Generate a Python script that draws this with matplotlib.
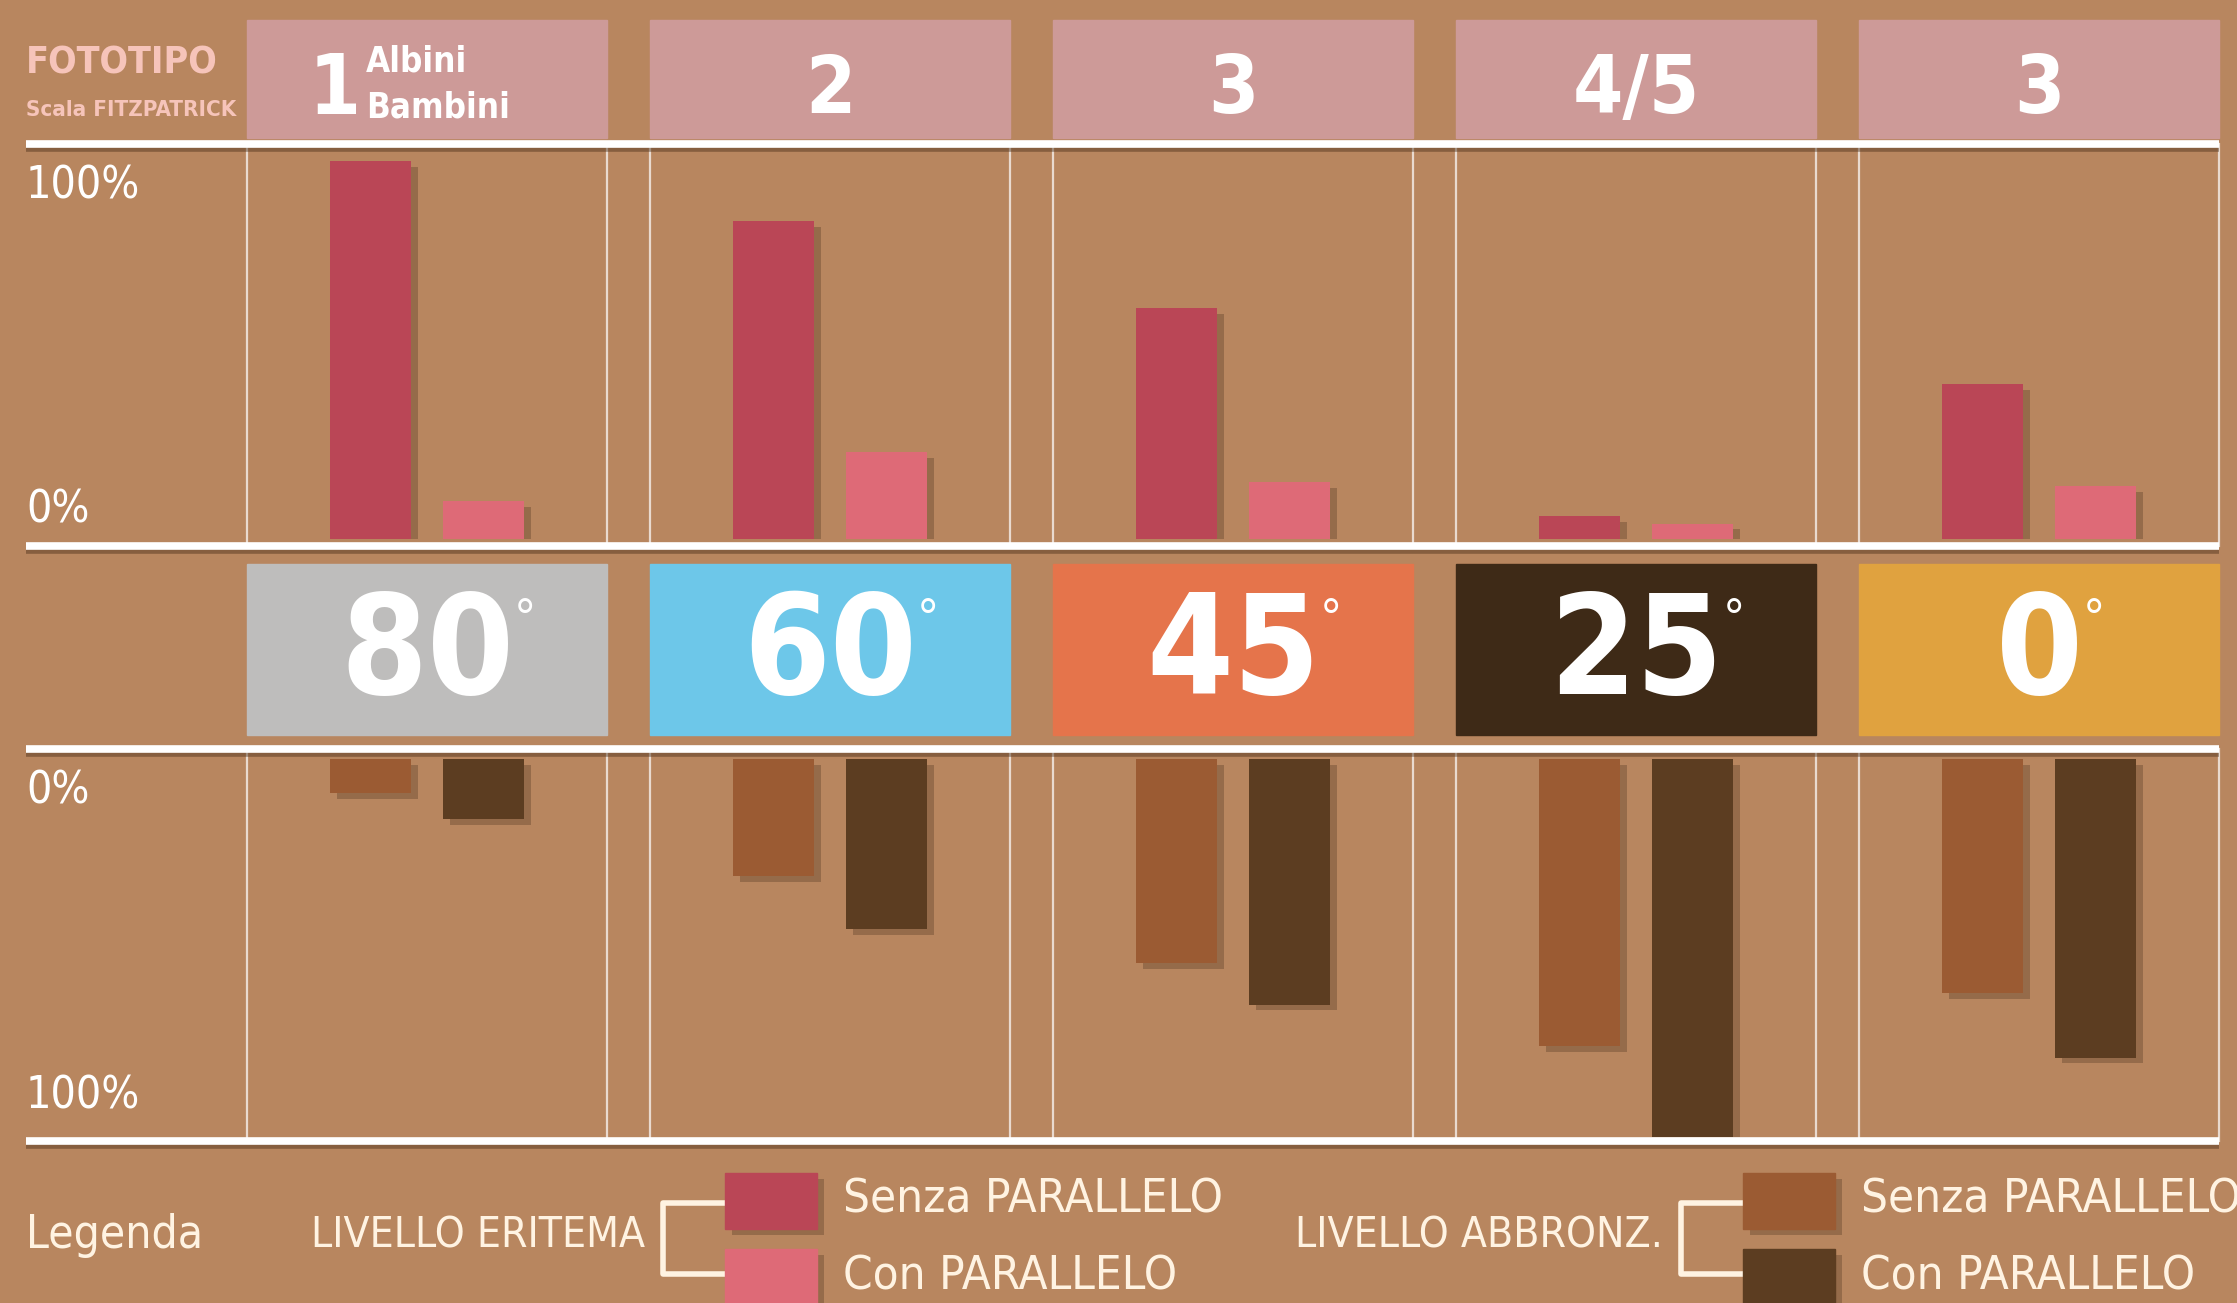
"""
Fototipo / angolo solare: livello eritema e abbronzatura, con e senza PARALLELO
"""
import matplotlib
matplotlib.use("Agg")
import matplotlib.pyplot as plt
import matplotlib.patheffects as pe
from matplotlib.patches import Rectangle

# Dati (percentuali)
fototipi = ["1", "2", "3", "4/5", "3"]
angoli = ["80", "60", "45", "25", "0"]
eritema_senza = [100, 84, 61, 6, 41]
eritema_con = [10, 23, 15, 4, 14]
abbronz_senza = [9, 31, 54, 76, 62]
abbronz_con = [16, 45, 65, 100, 79]

# Colori
BG = "#B8865F"
HEADER = "#CD9A98"
ROSSO = "#BA4656"
ROSA = "#DE6A77"
MARRONE = "#9B5B33"
SCURO = "#5C3D21"
colori_angoli = ["#BEBDBC", "#6DC7E9", "#E5744B", "#3E2A17", "#E0A23F"]
CREMA = "#FFF3E2"

plt.rcParams["font.family"] = ["DejaVu Sans"]
plt.rcParams["font.stretch"] = "condensed"

W, H = 2237, 1303
fig = plt.figure(figsize=(W / 100, H / 100), dpi=100, facecolor=BG)

# Asse di sfondo in pixel per la decorazione
bg = fig.add_axes([0, 0, 1, 1])
bg.set_xlim(0, W)
bg.set_ylim(H, 0)
bg.axis("off")
bg.set_facecolor(BG)

col_left = [247 + i * 403 for i in range(5)]
col_w = 360
shadow = [pe.SimplePatchShadow(offset=(5, -4), shadow_rgbFace="#3a2412", alpha=0.27), pe.Normal()]
lshadow = [pe.SimpleLineShadow(offset=(0, -3), shadow_color="#4a2e18", alpha=0.45), pe.Normal()]

# intestazioni
for i, x0 in enumerate(col_left):
    bg.add_patch(Rectangle((x0, 20), col_w, 118, color=HEADER, zorder=1))
    bg.add_patch(Rectangle((x0, 564), col_w, 171, color=colori_angoli[i], zorder=1))
    t = bg.text(x0 + col_w / 2, 655, angoli[i], color="white", fontsize=100, fontweight="bold",
                ha="center", va="center", zorder=3)
    bg.annotate("°", xy=(1.0, 0.93), xycoords=t, color="white", fontsize=36,
                ha="left", va="top", zorder=3)
    if i == 0:
        bg.text(335, 90, fototipi[i], color="white", fontsize=60, fontweight="bold",
                ha="center", va="center", zorder=3)
        bg.text(366, 61, "Albini", color="white", fontsize=25, fontweight="bold",
                ha="left", va="center", zorder=3)
        bg.text(366, 107, "Bambini", color="white", fontsize=25, fontweight="bold",
                ha="left", va="center", zorder=3)
    else:
        bg.text(x0 + col_w / 2, 91, fototipi[i], color="white", fontsize=58, fontweight="bold",
                ha="center", va="center", zorder=3)
    # linee verticali
    for xv in (x0, x0 + col_w):
        bg.plot([xv, xv], [144, 546], color="white", lw=1.6, alpha=0.7, zorder=1)
        bg.plot([xv, xv], [749, 1141], color="white", lw=1.6, alpha=0.7, zorder=1)

bg.text(26, 63, "FOTOTIPO", color="#F6C4BA", fontsize=27, fontweight="bold", ha="left", va="center")
bg.text(26, 110, "Scala FITZPATRICK", color="#F6C4BA", fontsize=16, fontweight="bold",
        ha="left", va="center")

# linee orizzontali
for yh in (144, 546, 749, 1141):
    bg.plot([26, 2219], [yh, yh], color="white", lw=5.5, solid_capstyle="butt", zorder=4,
            path_effects=lshadow)

# etichette percentuali
for y, s in [(186, "100%"), (510, "0%"), (791, "0%"), (1096, "100%")]:
    bg.text(26, y, s, color="white", fontsize=32, ha="left", va="center")

# Assi dei dati
ext = col_w / 2 / 403
ax_up = fig.add_axes([247 / W, 1 - 539 / H, 1972 / W, (539 - 161) / H])
ax_dn = fig.add_axes([247 / W, 1 - 1137 / H, 1972 / W, (1137 - 759) / H])
xs = list(range(len(fototipi)))
off, bw = 0.141, 0.201
ax_up.bar([x - off for x in xs], eritema_senza, width=bw, color=ROSSO, path_effects=shadow)
ax_up.bar([x + off for x in xs], eritema_con, width=bw, color=ROSA, path_effects=shadow)
ax_dn.bar([x - off for x in xs], abbronz_senza, width=bw, color=MARRONE, path_effects=shadow)
ax_dn.bar([x + off for x in xs], abbronz_con, width=bw, color=SCURO, path_effects=shadow)
ax_up.set_ylim(0, 100)
ax_dn.set_ylim(100, 0)
for ax in (ax_up, ax_dn):
    ax.set_xlim(-ext, len(xs) - 1 + ext)
    ax.axis("off")
    ax.patch.set_alpha(0)

# Legenda
bg.text(26, 1236, "Legenda", color=CREMA, fontsize=33, ha="left", va="center")
for lab, xt, xb, c1, c2 in [("LIVELLO ERITEMA", 311, 663, ROSSO, ROSA),
                            ("LIVELLO ABBRONZ.", 1295, 1681, MARRONE, SCURO)]:
    bg.text(xt, 1236, lab, color=CREMA, fontsize=30.5, ha="left", va="center")
    bg.plot([xb + 60, xb, xb, xb + 60], [1203, 1203, 1274, 1274], color=CREMA, lw=4, zorder=3)
    bg.add_patch(Rectangle((xb + 62, 1173), 92, 56, color=c1, zorder=3, path_effects=shadow))
    bg.add_patch(Rectangle((xb + 62, 1249), 92, 60, color=c2, zorder=3, path_effects=shadow))
    bg.text(xb + 180, 1200, "Senza PARALLELO", color=CREMA, fontsize=34, ha="left", va="center")
    bg.text(xb + 180, 1277, "Con PARALLELO", color=CREMA, fontsize=34, ha="left", va="center")

fig.savefig("out.png", dpi=100, facecolor=BG)
